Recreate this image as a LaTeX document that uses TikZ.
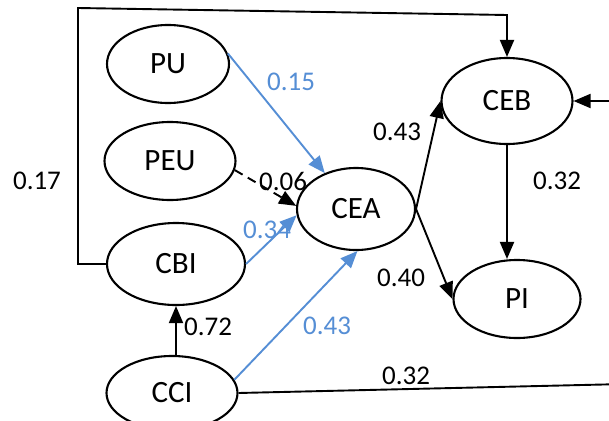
\documentclass[tikz,border=0pt]{standalone}
\usepackage{fontspec}
\setmainfont{Carlito}
\usetikzlibrary{arrows.meta,shapes.geometric}
\definecolor{pathblue}{RGB}{85,142,213}
\begin{document}
\begin{tikzpicture}[x=1pt,y=-1pt,
  lat/.style={draw, ellipse, line width=2.1pt, inner sep=0pt, font=\fontsize{31}{34}\selectfont},
  arr/.style={-{Triangle[length=17pt,width=14pt]}, line width=1.9pt},
  coef/.style={font=\fontsize{27}{30}\selectfont, inner sep=0pt},
  bl/.style={pathblue}]
\useasboundingbox (0,0) rectangle (609,420);
\clip (0,0) rectangle (609,420);
\fill[white] (0,0) rectangle (609,420);

\node[lat, minimum width=122pt, minimum height=78pt] (PU)  at (168,64)  {PU};
\node[lat, minimum width=131pt, minimum height=78pt] (PEU) at (170,161) {PEU};
\node[lat, minimum width=138pt, minimum height=82pt] (CBI) at (176,264) {CBI};
\node[lat, minimum width=131pt, minimum height=74pt] (CCI) at (172,393) {CCI};
\node[lat, minimum width=118pt, minimum height=82pt] (CEA) at (356,209) {CEA};
\node[lat, minimum width=131pt, minimum height=86pt] (CEB) at (507,101) {CEB};
\node[lat, minimum width=127pt, minimum height=78pt] (PI)  at (517,299) {PI};

\coordinate (tl) at (78,8);
\coordinate (tr) at (507,15);
\coordinate (br) at (625,384);
\coordinate (rr) at (625,101);

\draw[arr] (CBI.west) -| (tl) -- (tr) -- (CEB.north);
\draw[arr, bl] (PU.10) -- (CEA.131);
\draw[arr, dashed, dash pattern=on 9pt off 6pt] (PEU.-8) -- (CEA.177);
\draw[arr, bl] (CBI.east) -- (CEA.186);
\draw[arr, bl] (CCI.12) -- (CEA.-88);
\draw[arr] (CBI.south |- CCI.north) -- (CBI.south);
\draw[arr] (CEA.east) -- (CEB.west);
\draw[arr] (CEA.east) -- (PI.west);
\draw[arr] (CEB.south) -- (CEB.south |- PI.north);
\draw[arr] (CCI.east) -- (br) -- (rr) -- (CEB.east);

\node[coef] (c1) at (37,181) {0.17};
\node[coef, bl] (c2) at (291,82) {0.15};
\node[coef] (c3) at (283,181) {0.06};
\node[coef, bl] (c4) at (267,230) {0.34};
\node[coef, bl] (c5) at (327,326) {0.43};
\node[coef] (c6) at (208,327) {0.72};
\node[coef] (c7) at (397,132) {0.43};
\node[coef] (c8) at (401,278) {0.40};
\node[coef] (c9) at (557,181) {0.32};
\node[coef] (c10) at (406,376) {0.32};
\end{tikzpicture}
\end{document}
